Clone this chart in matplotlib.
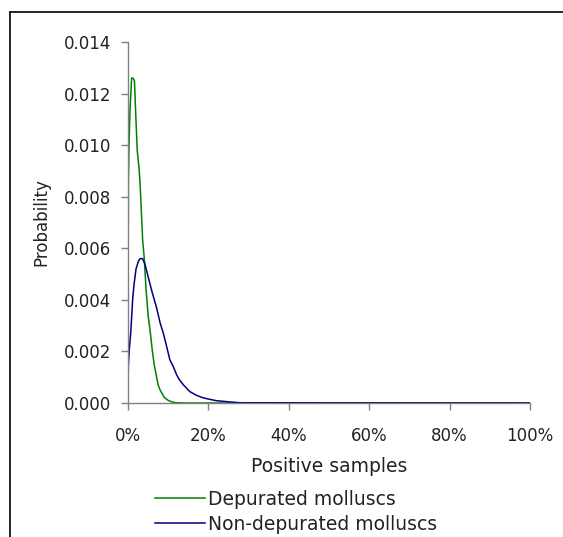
import matplotlib
matplotlib.use("Agg")
import matplotlib.pyplot as plt
from matplotlib.lines import Line2D
from matplotlib.ticker import FuncFormatter, MultipleLocator

# Positive samples (%) and probabilities
x_green = [0, 0.1, 0.25, 0.5, 0.75, 0.9, 1.25, 1.6, 1.75, 2.0, 2.3, 2.8, 3.0, 3.3, 3.65, 4.0,
           4.5, 5.0, 5.5, 6.0, 6.5, 7.0, 7.5, 8.0, 9.0, 10.0, 11.0, 12.0, 14.0, 100.0]
p_green = [0.0030, 0.0086, 0.0100, 0.0114, 0.0121, 0.0126, 0.0126, 0.0125, 0.0119, 0.0109,
           0.0098, 0.0090, 0.0085, 0.0075, 0.0063, 0.0057, 0.0044, 0.0034, 0.0028, 0.0021,
           0.0015, 0.0011, 0.0007, 0.0005, 0.00022, 0.0001, 0.00004, 0.00001, 0.0, 0.0]

x_blue = [0, 0.1, 0.33, 0.67, 0.9, 1.15, 1.5, 2.0, 2.6, 3.0, 3.6, 4.2, 5.0, 6.0, 7.1, 8.0,
          8.8, 9.6, 10.4, 11.3, 12.1, 12.8, 13.8, 15.4, 17.0, 18.7, 20.4, 22.0, 25.4, 28.0, 100.0]
p_blue = [0.00063, 0.0015, 0.0021, 0.0027, 0.0033, 0.0040, 0.0046, 0.0052, 0.0055, 0.0056,
          0.0056, 0.0054, 0.0049, 0.0043, 0.0037, 0.0031, 0.0027, 0.0022, 0.00168, 0.0014,
          0.00109, 0.0009, 0.0007, 0.00044, 0.00030, 0.0002, 0.00014, 0.00009, 0.00004, 0.00001, 0.0]

series_names = ["Depurated molluscs", "Non-depurated molluscs"]

TXT = "#222222"
W, H = 563, 537
fig = plt.figure(figsize=(W / 100, H / 100), dpi=100)
ax = fig.add_axes([128 / W, 1 - 403 / H, (530 - 128) / W, (403 - 42) / H])

ax.plot([v / 100 for v in x_green], p_green, color="#008000", lw=1.1, label=series_names[0])
ax.plot([v / 100 for v in x_blue], p_blue, color="#000080", lw=1.1, label=series_names[1])

ax.set_xlim(0, 1)
ax.set_ylim(0, 0.014)
ax.xaxis.set_major_locator(MultipleLocator(0.2))
ax.yaxis.set_major_locator(MultipleLocator(0.002))
ax.xaxis.set_major_formatter(FuncFormatter(lambda v, p: f"{v*100:.0f}%"))
ax.yaxis.set_major_formatter(FuncFormatter(lambda v, p: f"{v:.3f}"))

for s in ["top", "right"]:
    ax.spines[s].set_visible(False)
for s in ["left", "bottom"]:
    ax.spines[s].set_color("#808080")
    ax.spines[s].set_linewidth(1.0)
ax.tick_params(axis="both", direction="out", length=5, width=1.0, color="#808080",
               labelsize=12, labelcolor=TXT)
ax.tick_params(axis="y", pad=7)
ax.tick_params(axis="x", pad=12)
ax.set_xlabel("Positive samples", fontsize=13.5, color=TXT, labelpad=9)
ax.set_ylabel("Probability", fontsize=12, color=TXT, labelpad=10)

leg = fig.legend(loc="upper left", bbox_to_anchor=(155 / W, 1 - 490 / H), frameon=False,
                 fontsize=13.5, handlelength=2.67, handletextpad=0.16, labelspacing=0.3,
                 borderpad=0, borderaxespad=0)
for t in leg.get_texts():
    t.set_color(TXT)

# outer frame (partially cropped)
fig.add_artist(Line2D([9.5 / W, 1.0], [1 - 11.5 / H, 1 - 11.5 / H], transform=fig.transFigure,
                      color="black", lw=1.2))
fig.add_artist(Line2D([9.5 / W, 9.5 / W], [0, 1 - 11.5 / H], transform=fig.transFigure,
                      color="black", lw=1.2))

fig.savefig("out.png", dpi=100)
